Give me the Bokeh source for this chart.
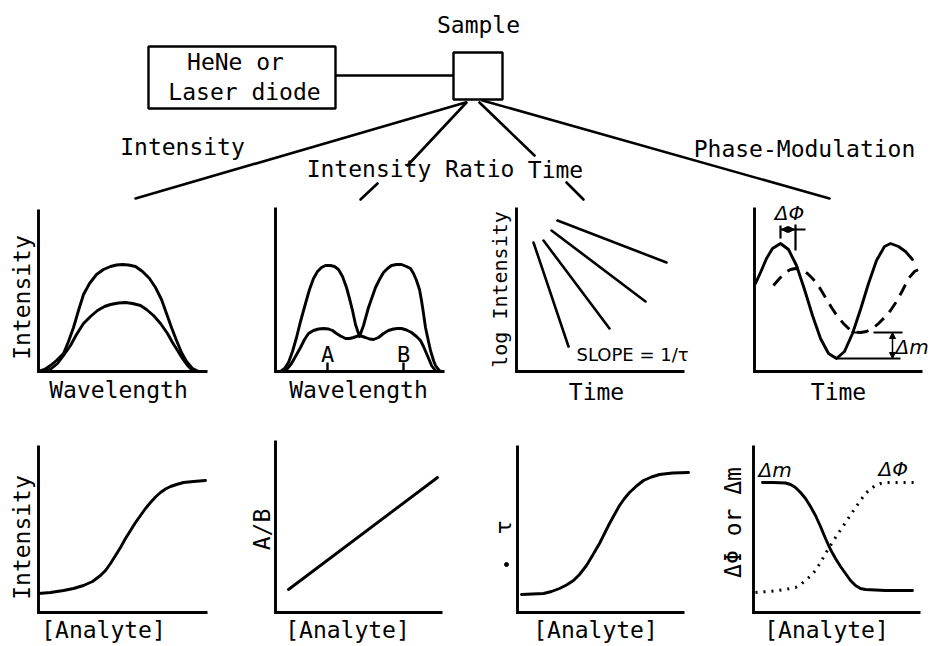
import math
from bokeh.plotting import figure
from bokeh.models import Range1d, Arrow, NormalHead
from bokeh.core.properties import value
from bokeh.embed import file_html
from bokeh.resources import INLINE

# ---------------- data (panel-local units: x to the right of the y-axis, y up from the x-axis)
# Intensity vs wavelength: two emission spectra
spec_hi_x = [0, 6, 12, 18, 25, 30, 35, 40, 45, 51, 58, 65, 72, 78, 84, 90, 97, 104, 111, 117, 123, 128, 133, 138, 143, 148, 154, 160]
spec_hi_y = [0, 2, 6, 11, 18, 30, 44, 61, 77, 88, 97, 102, 105, 106.5, 107, 106.5, 105, 100, 93, 84, 72, 58, 44, 31, 19, 10, 3, 0]
spec_lo_x = [7, 13, 19, 25, 32, 38, 45, 52, 59, 66, 72, 80, 87, 94, 102, 108, 115, 122, 129, 134, 139, 144, 149, 153, 157]
spec_lo_y = [0, 3, 8, 16, 26, 37, 48, 55, 61, 65, 67, 68.5, 69, 68, 66, 62, 56, 48, 38, 29, 21, 13, 6, 2, 0]

# Intensity ratio: two-band spectra
ratio_hi_x = [5, 9, 13, 17, 21, 25, 30, 34, 38, 42, 46, 50, 55, 59, 63, 67, 71, 74, 77, 80, 84,
              88, 93, 100, 104, 108, 112, 116, 121, 126, 131, 135, 138, 141, 144, 146, 148, 150, 153, 155, 158, 160, 163, 165]
ratio_hi_y = [0, 3, 9, 20, 34, 50, 68, 82, 93, 100, 104, 106, 106, 105, 102, 95, 84, 73, 61, 47, 35,
              46, 64, 84, 92, 99, 103, 106, 107, 107, 105, 103, 98, 91, 82, 71, 58, 44, 30, 21, 11, 6, 2, 0]
ratio_lo_x = [8, 12, 16, 20, 25, 29, 33, 38, 43, 48, 53, 57, 61, 65, 70, 74, 78, 81, 84, 87, 90, 94, 98,
              103, 108, 113, 118, 122, 126, 131, 136, 141, 145, 148, 151, 154, 156, 159, 161]
ratio_lo_y = [0, 3, 8, 15, 24, 32, 38, 41, 42.5, 43, 42.5, 41, 38, 35.5, 33, 33, 34, 35, 36, 35, 34, 32.5, 32,
              34, 38, 41, 42.5, 43, 43, 41.5, 39, 35, 31, 25, 18, 11, 6, 2, 0]
ratio_marks_x = [52, 128]
ratio_marks = ["A", "B"]

# Time-resolved decays (log intensity vs time): start and end of each line
decay_t0 = [17, 27, 35, 41]
decay_i0 = [129, 131, 141, 151]
decay_t1 = [52, 93, 129, 150]
decay_i1 = [25, 43, 70, 109]

# Phase-modulation: excitation (solid) and emission (dashed)
pm_exc_x = [1, 6, 12, 18, 26, 34, 42, 50, 58, 66, 74, 82, 90, 98, 106, 114, 122, 130, 136, 144, 151, 158]
pm_exc_y = [88, 99, 113, 123, 128, 122, 106, 82, 56, 33, 18, 13, 20, 38, 62, 88, 111, 125, 128, 125, 120, 112]
pm_em_x = [19, 25, 31, 36, 41, 47, 53, 59, 65, 71, 77, 83, 89, 95, 101, 106, 112, 118, 124, 130, 136, 142, 148, 154, 160, 166]
pm_em_y = [86, 93, 99, 102, 103, 102, 98, 92, 84, 74, 64, 55, 48, 42, 39.5, 39, 40, 43, 48, 54, 61, 70, 81, 93, 100, 103]

# Calibration curves vs [Analyte]
cal_int_x = [0, 12, 25, 35, 45, 54, 62, 67, 72, 77, 82, 87, 92, 97, 102, 107, 112, 117, 122, 127, 132, 138, 145, 155, 167]
cal_int_y = [19, 20, 22, 24, 27, 31, 37, 42, 49, 57, 65, 74, 82, 90, 97, 104, 110, 115.5, 120, 123.5, 126, 128, 130, 131, 132]
cal_ratio_x = [13, 162]
cal_ratio_y = [23, 135]
cal_tau_x = [4, 15, 26, 34, 42, 49, 56, 62, 69, 75, 82, 87, 92, 97, 102, 107, 112, 119, 126, 134, 142, 155, 171]
cal_tau_y = [18, 18.5, 19, 21, 24, 27.5, 32, 38, 47, 57, 69, 79, 89, 98, 107, 114, 120, 126.5, 132, 135.5, 138, 139.5, 140]
cal_dm_x = [9, 20, 32, 37, 42, 47, 52, 57, 62, 67, 72, 77, 82, 87, 92, 97, 102, 107, 112, 122, 132, 159]
cal_dm_y = [130, 130, 129.5, 128, 125, 120, 114, 106, 97, 86, 74, 63, 54, 46, 39, 32, 27, 24, 23, 22.5, 22, 22]
cal_dphi_x = [2, 14, 25, 34, 42, 47, 52, 57, 62, 67, 72, 77, 82, 87, 92, 97, 102, 107, 112, 117, 122, 127, 132, 145, 162]
cal_dphi_y = [20, 21, 22, 23.5, 25, 28, 32, 36.5, 42, 50, 59, 67, 75, 82.5, 90, 97.5, 105, 112, 119, 123.5, 127, 129, 130, 130, 130]

# Texts
title_sample = "Sample"
source_lines = ["HeNe or", "Laser diode"]
branch_titles = ["Intensity", "Intensity Ratio", "Time", "Phase-Modulation"]
top_xlabels = ["Wavelength", "Wavelength", "Time", "Time"]
top_ylabels = ["Intensity", "", "log Intensity", ""]
bottom_xlabels = ["[Analyte]", "[Analyte]", "[Analyte]", "[Analyte]"]
bottom_ylabels = ["Intensity", "A/B", "τ", "ΔΦ or Δm"]
slope_text = "SLOPE = 1/τ"

# ---------------- layout (page pixels)
MONO = "DejaVu Sans Mono"
SANS = "DejaVu Sans"
LW = 2.9
BASE_SHIFT = 0.38  # empirical baseline correction (fraction of font size)

panels = {
    "spec":   dict(ox=38,  oy=371, top=209, right=207),
    "ratio":  dict(ox=275, oy=371, top=207, right=444),
    "decay":  dict(ox=516, oy=371, top=207, right=684),
    "pm":     dict(ox=754, oy=371, top=207, right=922),
    "c_int":  dict(ox=38,  oy=612, top=445, right=207),
    "c_rat":  dict(ox=275, oy=612, top=440, right=442),
    "c_tau":  dict(ox=517, oy=612, top=445, right=684),
    "c_pm":   dict(ox=753, oy=612, top=445, right=920),
}

p = figure(width=932, height=646, x_range=Range1d(0, 932), y_range=Range1d(646, 0),
           output_backend="svg", toolbar_location=None, min_border=0,
           x_axis_type=None, y_axis_type=None)
p.grid.visible = False
p.outline_line_color = None
p.background_fill_color = "white"
p.border_fill_color = "white"


def X(panel, xs):
    return [panels[panel]["ox"] + v for v in xs]


def Y(panel, ys):
    return [panels[panel]["oy"] - v for v in ys]


def curve(panel, xs, ys, dash="solid", lw=LW, cap="round"):
    p.line(X(panel, xs), Y(panel, ys), line_color="black", line_width=lw,
           line_dash=dash, line_join="round", line_cap=cap)


def txt(x, y, s, size=23, font=MONO, align="center", baseline="alphabetic", angle=0.0, style="normal"):
    if baseline == "alphabetic":
        if angle == 0.0:
            y -= BASE_SHIFT * size
        else:
            x -= BASE_SHIFT * size
    p.text(x=[x], y=[y], text=[s], text_font=value(font), text_font_size=f"{size}px",
           text_align=align, text_baseline=baseline, angle=angle, text_font_style=style,
           text_color="black")


# ---------------- top diagram
p.quad(left=[148], right=[335], top=[46], bottom=[108], fill_color=None, line_color="black", line_width=2.4)
p.quad(left=[453], right=[502], top=[52], bottom=[99], fill_color=None, line_color="black", line_width=2.4)
p.line([335, 453], [75, 75], line_color="black", line_width=2.4)
txt(478, 33, title_sample)
txt(235, 70, source_lines[0])
txt(244, 100, source_lines[1])

# branches from the sample
branch_segments = [
    ([465, 135], [102, 198]),
    ([466, 407], [102, 165]), ([377, 360], [183, 199]),
    ([479, 534], [102, 155]), ([566, 583], [182, 199]),
    ([482, 829], [100, 198]),
]
for bx, by in branch_segments:
    p.line(bx, by, line_color="black", line_width=2.6, line_cap="round")
txt(182, 155, branch_titles[0])
txt(410, 177, branch_titles[1])
txt(555, 178, branch_titles[2])
txt(804, 157, branch_titles[3])

# ---------------- panel axes
for name, d in panels.items():
    p.line([d["ox"], d["ox"], d["right"]], [d["top"], d["oy"], d["oy"]],
           line_color="black", line_width=LW, line_join="miter")

# Panel 1: intensity spectra
curve("spec", spec_hi_x, spec_hi_y)
curve("spec", spec_lo_x, spec_lo_y)
txt(118, 398, top_xlabels[0])
txt(30, 297, top_ylabels[0], angle=math.pi / 2)

# Panel 2: intensity ratio spectra
curve("ratio", ratio_hi_x, ratio_hi_y)
curve("ratio", ratio_lo_x, ratio_lo_y)
for mx, lab in zip(ratio_marks_x, ratio_marks):
    p.line(X("ratio", [mx, mx]), Y("ratio", [0, 9]), line_color="black", line_width=2.4)
    txt(panels["ratio"]["ox"] + mx, panels["ratio"]["oy"] - 9, lab, size=22)
txt(358, 398, top_xlabels[1])

# Panel 3: decays
for t0, i0, t1, i1 in zip(decay_t0, decay_i0, decay_t1, decay_i1):
    curve("decay", [t0, t1], [i0, i1], lw=2.6)
txt(576, 361, slope_text, size=18, font=SANS, align="left")
txt(596, 400, top_xlabels[2])
txt(507, 289, top_ylabels[2], size=20, angle=math.pi / 2)

# Panel 4: phase modulation
curve("pm", pm_exc_x, pm_exc_y)
curve("pm", pm_em_x, pm_em_y, dash="12 8", cap="butt")
i_exc = pm_exc_y.index(max(pm_exc_y))
i_em = pm_em_y.index(max(pm_em_y))
xa, xb = pm_exc_x[i_exc], pm_em_x[i_em]
ya = pm_exc_y[i_exc]
p.line(X("pm", [xa, xa]), Y("pm", [ya + 5, ya + 18]), line_color="black", line_width=2.2)
p.line(X("pm", [xb, xb]), Y("pm", [ya - 7, ya + 19]), line_color="black", line_width=2.2)
p.line(X("pm", [xa, xb + 10]), Y("pm", [ya + 14, ya + 14]), line_color="black", line_width=1.8)
p.add_layout(Arrow(start=NormalHead(size=6, fill_color="black", line_color="black"),
                   end=NormalHead(size=6, fill_color="black", line_color="black"),
                   x_start=X("pm", [xa + 1])[0], y_start=Y("pm", [ya + 14])[0],
                   x_end=X("pm", [xb - 1])[0], y_end=Y("pm", [ya + 14])[0],
                   line_width=1.5, line_color="black"))
txt(X("pm", [xa + 9])[0], 220, "ΔΦ", size=20, font=SANS, style="italic")
y_min_exc = min(pm_exc_y)
y_min_em = min(pm_em_y)
x_min_exc = pm_exc_x[pm_exc_y.index(y_min_exc)]
p.line(X("pm", [x_min_exc, 146]), Y("pm", [y_min_exc, y_min_exc]), line_color="black", line_width=2)
p.line(X("pm", [119, 148]), Y("pm", [y_min_em, y_min_em]), line_color="black", line_width=2)
p.line(X("pm", [97, 107]), Y("pm", [y_min_em, y_min_em]), line_color="black", line_width=2)
p.add_layout(Arrow(start=NormalHead(size=6, fill_color="black", line_color="black"),
                   end=NormalHead(size=6, fill_color="black", line_color="black"),
                   x_start=X("pm", [138])[0], y_start=Y("pm", [y_min_em])[0],
                   x_end=X("pm", [138])[0], y_end=Y("pm", [y_min_exc])[0],
                   line_width=1.5, line_color="black"))
txt(895, 354, "Δm", size=20, font=SANS, align="left", style="italic")
txt(838, 400, top_xlabels[3])

# Bottom row: calibration curves
curve("c_int", cal_int_x, cal_int_y)
txt(103, 638, bottom_xlabels[0])
txt(30, 537, bottom_ylabels[0], angle=math.pi / 2)

curve("c_rat", cal_ratio_x, cal_ratio_y)
txt(347, 638, bottom_xlabels[1])
txt(270, 529, bottom_ylabels[1], angle=math.pi / 2)

curve("c_tau", cal_tau_x, cal_tau_y)
txt(595, 638, bottom_xlabels[2])
txt(503, 527, bottom_ylabels[2], size=22, font=SANS, baseline="middle", angle=math.pi / 2)
p.scatter([506], [564], size=4, color="black")

curve("c_pm", cal_dm_x, cal_dm_y)
curve("c_pm", cal_dphi_x, cal_dphi_y, dash="2 6", lw=3, cap="butt")
txt(758, 477, "Δm", size=20, font=SANS, align="left", style="italic")
txt(878, 476, "ΔΦ", size=20, font=SANS, align="left", style="italic")
txt(826, 638, bottom_xlabels[3])
txt(741, 522, bottom_ylabels[3], size=23, angle=math.pi / 2)

open("out.html", "w").write(file_html(p, INLINE))
